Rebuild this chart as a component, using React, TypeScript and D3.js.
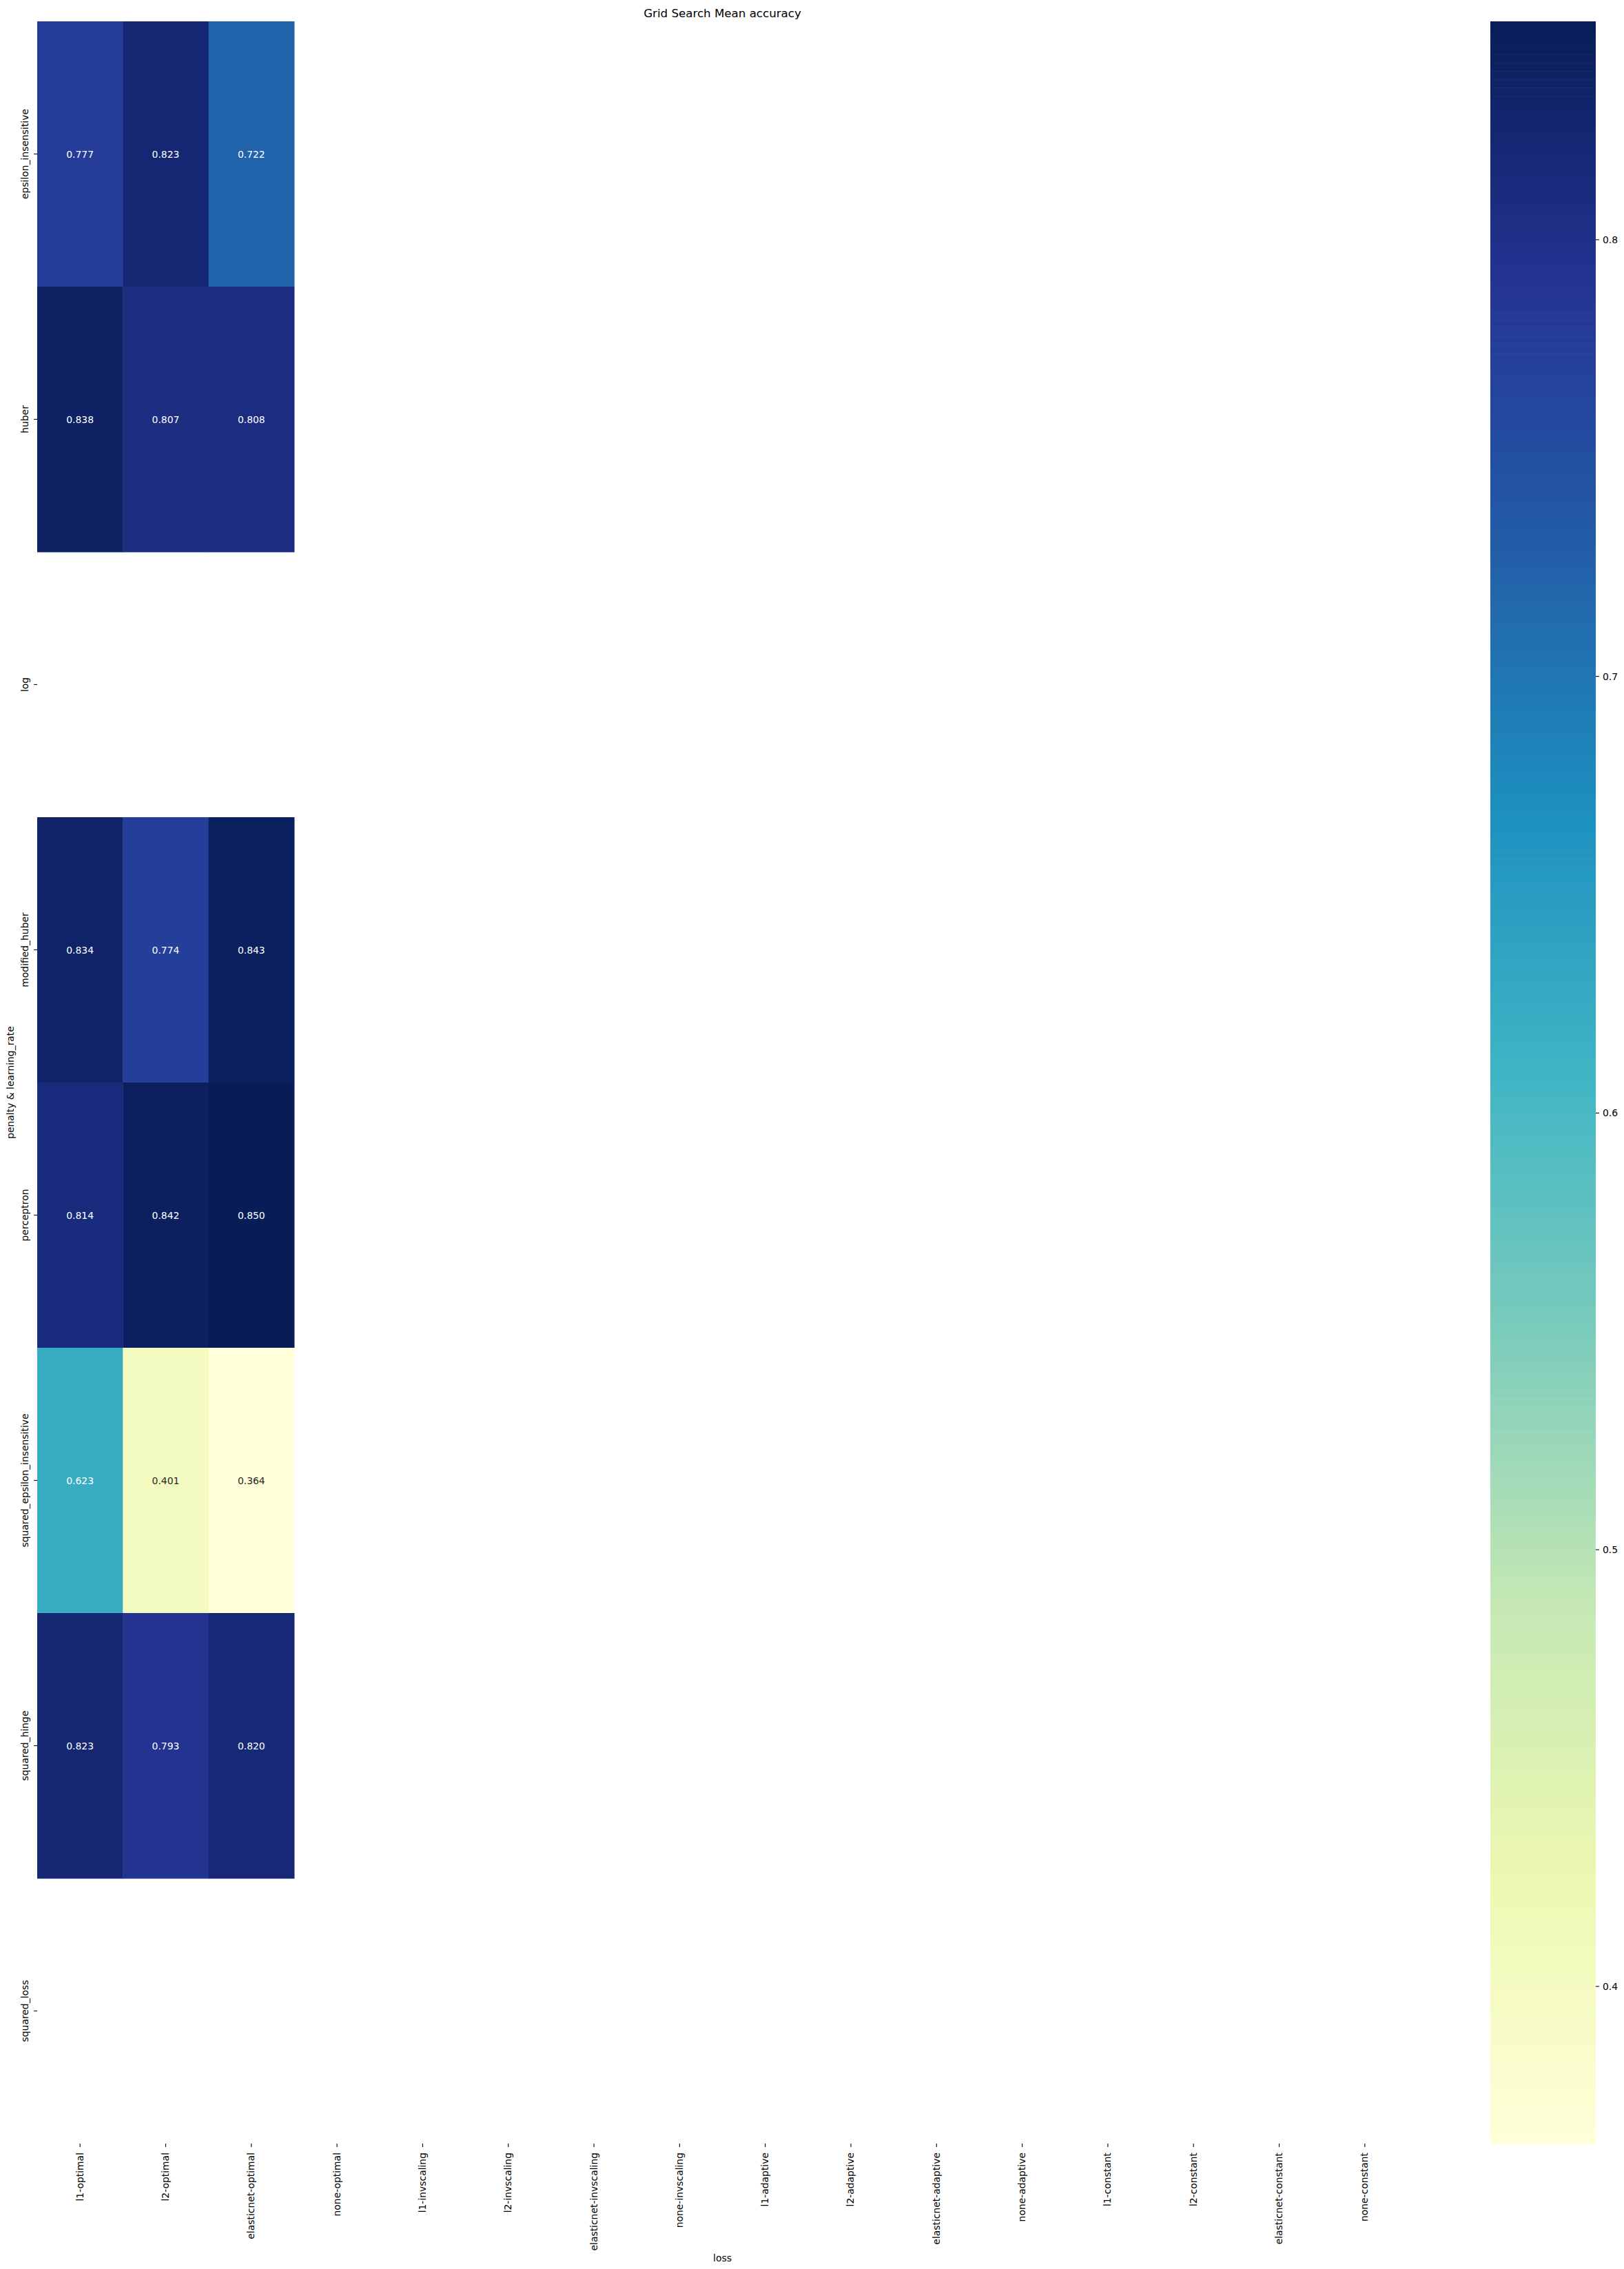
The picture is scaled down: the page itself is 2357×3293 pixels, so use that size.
import * as d3 from 'd3'
import { useRef, useEffect } from 'react'

// rows (loss) and columns (penalty-learning_rate)
const losses = ['epsilon_insensitive', 'huber', 'log', 'modified_huber', 'perceptron',
  'squared_epsilon_insensitive', 'squared_hinge', 'squared_loss']
const settings = ['l1-optimal', 'l2-optimal', 'elasticnet-optimal', 'none-optimal',
  'l1-invscaling', 'l2-invscaling', 'elasticnet-invscaling', 'none-invscaling',
  'l1-adaptive', 'l2-adaptive', 'elasticnet-adaptive', 'none-adaptive',
  'l1-constant', 'l2-constant', 'elasticnet-constant', 'none-constant']

// mean accuracy per loss, only the first three settings have results
const epsilonInsensitive = [0.777, 0.823, 0.722]
const huber = [0.838, 0.807, 0.808]
const logLoss: number[] = []
const modifiedHuber = [0.834, 0.774, 0.843]
const perceptron = [0.814, 0.842, 0.850]
const squaredEpsilonInsensitive = [0.623, 0.401, 0.364]
const squaredHinge = [0.823, 0.793, 0.820]
const squaredLoss: number[] = []
const rowValues = [epsilonInsensitive, huber, logLoss, modifiedHuber, perceptron,
  squaredEpsilonInsensitive, squaredHinge, squaredLoss]

const cbarTicks = [0.4, 0.5, 0.6, 0.7, 0.8]
const ylgnbu = ['#ffffd9', '#edf8b1', '#c7e9b4', '#7fcdbb', '#41b6c4', '#1d91c0', '#225ea8', '#253494', '#081d58']

export default function App() {
  const svgRef = useRef<SVGSVGElement>(null)
  const width = 2357
  const height = 3293

  useEffect(() => {
    const svg = d3.select(svgRef.current)
    svg.selectAll('*').remove()
    const font = 'DejaVu Sans, sans-serif'

    const left = 54, right = 2043, top = 31, bottom = 3111
    const cells: { loss: string, setting: string, value: number }[] = []
    rowValues.forEach((vals, i) => vals.forEach((v, j) => cells.push({ loss: losses[i], setting: settings[j], value: v })))

    const vmin = d3.min(cells, d => d.value) as number
    const vmax = d3.max(cells, d => d.value) as number

    const x = d3.scaleBand().domain(settings).range([left, right])
    const y = d3.scaleBand().domain(losses).range([top, bottom])
    const color = d3.scaleLinear<string>()
      .domain(ylgnbu.map((_, i) => vmin + i * (vmax - vmin) / (ylgnbu.length - 1)))
      .range(ylgnbu)
      .interpolate(d3.interpolateRgb)

    const lum = (c: string) => {
      const rgb = d3.rgb(c)
      const f = (v: number) => { v /= 255; return v <= 0.03928 ? v / 12.92 : Math.pow((v + 0.055) / 1.055, 2.4) }
      return 0.2126 * f(rgb.r) + 0.7152 * f(rgb.g) + 0.0722 * f(rgb.b)
    }

    // cells
    svg.append('g').selectAll('rect')
      .data(cells)
      .join('rect')
      .attr('x', d => x(d.setting)!)
      .attr('y', d => y(d.loss)!)
      .attr('width', x.bandwidth() + 0.5)
      .attr('height', y.bandwidth() + 0.5)
      .attr('fill', d => color(d.value))

    svg.append('g').selectAll('text')
      .data(cells)
      .join('text')
      .attr('x', d => x(d.setting)! + x.bandwidth() / 2)
      .attr('y', d => y(d.loss)! + y.bandwidth() / 2)
      .attr('text-anchor', 'middle')
      .attr('dominant-baseline', 'central')
      .attr('font-family', font)
      .attr('font-size', 13.9)
      .attr('fill', d => lum(color(d.value)) > 0.408 ? '#262626' : '#ffffff')
      .text(d => d.value.toFixed(3))

    // y axis
    const yAxis = svg.append('g')
    losses.forEach(l => {
      const cy = y(l)! + y.bandwidth() / 2
      yAxis.append('line').attr('x1', left - 4.9).attr('x2', left).attr('y1', cy).attr('y2', cy)
        .attr('stroke', '#000').attr('stroke-width', 1.1)
      yAxis.append('text')
        .attr('transform', `translate(${left - 13},${cy}) rotate(-90)`)
        .attr('text-anchor', 'middle')
        .attr('font-family', font).attr('font-size', 13.9).attr('fill', '#000')
        .text(l)
    })

    // x axis
    const xAxis = svg.append('g')
    settings.forEach(s => {
      const cx = x(s)! + x.bandwidth() / 2
      xAxis.append('line').attr('x1', cx).attr('x2', cx).attr('y1', bottom).attr('y2', bottom + 4.9)
        .attr('stroke', '#000').attr('stroke-width', 1.1)
      xAxis.append('text')
        .attr('transform', `translate(${cx + 4.5},${bottom + 13}) rotate(-90)`)
        .attr('text-anchor', 'end')
        .attr('font-family', font).attr('font-size', 13.9).attr('fill', '#000')
        .text(s)
    })

    svg.append('text')
      .attr('x', (left + right) / 2).attr('y', 3282)
      .attr('text-anchor', 'middle')
      .attr('font-family', font).attr('font-size', 13.9).attr('fill', '#000')
      .text('loss')

    svg.append('text')
      .attr('transform', `translate(20,${(top + bottom) / 2}) rotate(-90)`)
      .attr('text-anchor', 'middle')
      .attr('font-family', font).attr('font-size', 13.9).attr('fill', '#000')
      .text('penalty & learning_rate')

    svg.append('text')
      .attr('x', (left + right) / 2).attr('y', 25)
      .attr('text-anchor', 'middle')
      .attr('font-family', font).attr('font-size', 16.67).attr('fill', '#000')
      .text('Grid Search Mean accuracy')

    // colorbar
    const cbLeft = 2163, cbRight = 2316
    const cb = d3.scaleLinear().domain([vmin, vmax]).range([bottom, top])
    const steps = d3.range(256).map(i => vmin + (i + 0.5) * (vmax - vmin) / 256)
    const stepH = (bottom - top) / 256
    svg.append('g').selectAll('rect')
      .data(steps)
      .join('rect')
      .attr('x', cbLeft)
      .attr('width', cbRight - cbLeft)
      .attr('y', d => cb(d) - stepH / 2)
      .attr('height', stepH + 0.6)
      .attr('fill', d => color(d))

    const cbAxis = svg.append('g')
    cbarTicks.forEach(t => {
      cbAxis.append('line').attr('x1', cbRight).attr('x2', cbRight + 4.9).attr('y1', cb(t)).attr('y2', cb(t))
        .attr('stroke', '#000').attr('stroke-width', 1.1)
      cbAxis.append('text')
        .attr('x', cbRight + 10).attr('y', cb(t))
        .attr('dominant-baseline', 'central')
        .attr('font-family', font).attr('font-size', 13.9).attr('fill', '#000')
        .text(t.toFixed(1))
    })
  }, [])

  return (
    <svg ref={svgRef} width={width} height={height}
      style={{ position: 'absolute', left: 0, top: 0, background: '#fff' }}>
    </svg>
  )
}
